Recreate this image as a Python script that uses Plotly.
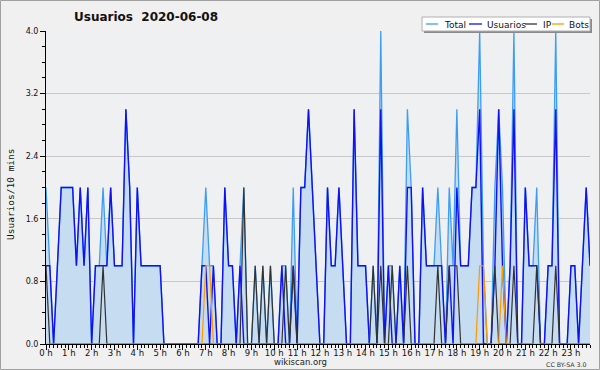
import plotly.graph_objects as go

# ---- data (10-minute intervals, 2020-06-08) ----
hour_ticks = list(range(24))
hour_labels = ["0 h", "1 h", "2 h", "3 h", "4 h", "5 h", "6 h", "7 h", "8 h", "9 h", "10 h", "11 h",
               "12 h", "13 h", "14 h", "15 h", "16 h", "17 h", "18 h", "19 h", "20 h", "21 h", "22 h", "23 h"]

total = [2, 1, 0, 1, 2, 2, 2, 2, 1, 2, 1, 2,
         0, 1, 1, 2, 1, 2, 1, 1, 1, 3, 2, 0,
         2, 1, 1, 1, 1, 1, 1, 0, 0, 0, 0, 0,
         0, 0, 0, 0, 0, 1, 2, 1, 1, 0, 0, 2,
         1, 1, 0, 1, 2, 0, 0, 1, 0, 1, 0, 1,
         0, 0, 1, 1, 0, 2, 0, 2, 2, 3, 2, 1,
         0, 0, 2, 1, 1, 2, 1, 0, 0, 3, 1, 1,
         1, 0, 1, 0, 4, 0, 1, 1, 0, 1, 0, 3,
         2, 0, 0, 2, 1, 1, 1, 2, 1, 0, 2, 1,
         3, 1, 1, 1, 2, 2, 4, 1, 0, 0, 2, 3,
         2, 0, 1, 4, 0, 0, 2, 1, 1, 2, 0, 0,
         1, 1, 4, 0, 0, 0, 1, 1, 0, 1, 2, 1]

usuarios = [1, 1, 0, 1, 2, 2, 2, 2, 1, 2, 1, 2,
            0, 1, 1, 1, 1, 2, 1, 1, 1, 3, 2, 0,
            2, 1, 1, 1, 1, 1, 1, 0, 0, 0, 0, 0,
            0, 0, 0, 0, 0, 1, 1, 0, 1, 0, 0, 2,
            1, 1, 0, 1, 0, 0, 0, 0, 0, 0, 0, 0,
            0, 0, 1, 0, 0, 1, 0, 2, 2, 3, 2, 1,
            0, 0, 2, 1, 1, 2, 1, 0, 0, 3, 1, 1,
            1, 0, 0, 0, 3, 0, 1, 0, 0, 1, 0, 2,
            2, 0, 0, 2, 1, 1, 1, 1, 1, 0, 1, 0,
            2, 1, 1, 1, 2, 2, 3, 0, 0, 0, 1, 3,
            1, 0, 1, 3, 0, 0, 2, 1, 1, 1, 0, 0,
            1, 1, 3, 0, 0, 0, 1, 1, 0, 1, 2, 1]

ip = [1, 0, 0, 0, 0, 0, 0, 0, 0, 0, 0, 0,
      0, 0, 0, 1, 0, 0, 0, 0, 0, 0, 0, 0,
      0, 0, 0, 0, 0, 0, 0, 0, 0, 0, 0, 0,
      0, 0, 0, 0, 0, 0, 0, 0, 0, 0, 0, 0,
      0, 0, 0, 0, 2, 0, 0, 1, 0, 1, 0, 1,
      0, 0, 0, 1, 0, 1, 0, 0, 0, 0, 0, 0,
      0, 0, 0, 0, 0, 0, 0, 0, 0, 0, 0, 0,
      0, 0, 1, 0, 1, 0, 0, 1, 0, 0, 0, 1,
      0, 0, 0, 0, 0, 0, 0, 1, 0, 0, 1, 1,
      1, 0, 0, 0, 0, 0, 0, 0, 0, 0, 1, 0,
      0, 0, 0, 1, 0, 0, 0, 0, 0, 1, 0, 0,
      0, 0, 1, 0, 0, 0, 0, 0, 0, 0, 0, 0]

bots = [0, 0, 0, 0, 0, 0, 0, 0, 0, 0, 0, 0,
        0, 0, 0, 0, 0, 0, 0, 0, 0, 0, 0, 0,
        0, 0, 0, 0, 0, 0, 0, 0, 0, 0, 0, 0,
        0, 0, 0, 0, 0, 0, 1, 1, 0, 0, 0, 0,
        0, 0, 0, 0, 0, 0, 0, 0, 0, 0, 0, 0,
        0, 0, 0, 0, 0, 0, 0, 0, 0, 0, 0, 0,
        0, 0, 0, 0, 0, 0, 0, 0, 0, 0, 0, 0,
        0, 0, 0, 0, 0, 0, 0, 0, 0, 0, 0, 0,
        0, 0, 0, 0, 0, 0, 0, 0, 0, 0, 0, 0,
        0, 0, 0, 0, 0, 0, 1, 1, 0, 0, 0, 0,
        1, 0, 0, 0, 0, 0, 0, 0, 0, 0, 0, 0,
        0, 0, 0, 0, 0, 0, 0, 0, 0, 0, 0, 0]

series_names = ["Total", "Usuarios", "IP", "Bots"]
times = [i / 6 for i in range(len(total))]  # hours

# ---- styling ----
W, H = 600, 370
L, R, T, B = 46, 10, 31, 26
PW, PH = W - L - R, H - T - B

C_TOTAL = "#3d9df2"
C_FILL = "#c5dcf1"
C_USU = "#1010f5"
C_IP = "#333333"
C_BOTS = "#ff9900"
FONT = "DejaVu Sans"


def px(x):
    return (x - L) / PW


def py(y):
    return (H - B - y) / PH


fig = go.Figure()
fig.add_trace(go.Scatter(x=times, y=total, mode="lines", fill="tozeroy",
                         fillcolor=C_FILL, line=dict(color=C_TOTAL, width=1.3),
                         name=series_names[0]))
fig.add_trace(go.Scatter(x=times, y=usuarios, mode="lines",
                         line=dict(color=C_USU, width=1.4), name=series_names[1]))
fig.add_trace(go.Scatter(x=times, y=ip, mode="lines",
                         line=dict(color=C_IP, width=1.2), name=series_names[2]))
fig.add_trace(go.Scatter(x=times, y=bots, mode="lines",
                         line=dict(color=C_BOTS, width=1.2), name=series_names[3]))

shapes = []
annotations = []

# outer border
shapes.append(dict(type="rect", xref="paper", yref="paper",
                   x0=px(0.5), x1=px(599.5), y0=py(369.5), y1=py(0.5),
                   line=dict(color="#a0a0a0", width=1), fillcolor="rgba(0,0,0,0)", layer="above"))

# legend box (shadow + box)
shapes.append(dict(type="rect", xref="paper", yref="paper",
                   x0=px(424), x1=px(592), y0=py(33), y1=py(19),
                   line=dict(width=0), fillcolor="#8a8a8a", layer="above"))
shapes.append(dict(type="rect", xref="paper", yref="paper",
                   x0=px(422), x1=px(590), y0=py(31), y1=py(17),
                   line=dict(color="#b0b0b0", width=1), fillcolor="white", layer="above"))

legend_items = [(426, 438, 442, C_TOTAL), (469, 482, 485, C_USU),
                (525, 537, 541, C_IP), (552, 564, 567, C_BOTS)]
for name, (lx0, lx1, tx, col) in zip(series_names, legend_items):
    shapes.append(dict(type="line", xref="paper", yref="paper",
                       x0=px(lx0), x1=px(lx1), y0=py(24), y1=py(24),
                       line=dict(color=col, width=1.3), layer="above"))
    annotations.append(dict(text=name, xref="paper", yref="paper", x=px(tx), y=py(24.5),
                            xanchor="left", yanchor="middle", showarrow=False,
                            font=dict(family=FONT, size=9, color="#111")))

# title
annotations.append(dict(text="<b>Usuarios  2020-06-08</b>", xref="paper", yref="paper",
                        x=px(146), y=py(17), xanchor="center", yanchor="middle",
                        showarrow=False, font=dict(family=FONT, size=12, color="#111")))
# y axis title
annotations.append(dict(text="Usuarios/10 mins", xref="paper", yref="paper",
                        x=px(10), y=py(194), xanchor="center", yanchor="middle",
                        textangle=-90, showarrow=False,
                        font=dict(family="DejaVu Sans Mono", size=9.5, color="#111")))
# footer
annotations.append(dict(text="wikiscan.org", xref="paper", yref="paper",
                        x=px(300), y=py(362), xanchor="center", yanchor="middle",
                        showarrow=False, font=dict(family=FONT, size=8.5, color="#222")))
annotations.append(dict(text="CC BY-SA 3.0", xref="paper", yref="paper",
                        x=px(589), y=py(364.5), xanchor="right", yanchor="middle",
                        showarrow=False, font=dict(family=FONT, size=6.3, color="#333")))

fig.update_layout(
    width=W, height=H,
    margin=dict(l=L, r=R, t=T, b=B, pad=0),
    paper_bgcolor="#f0f0f0",
    plot_bgcolor="#eff0f2",
    showlegend=False,
    shapes=shapes,
    annotations=annotations,
    font=dict(family=FONT, size=8, color="#111"),
)

fig.update_xaxes(
    range=[0, times[-1]],
    tickmode="array", tickvals=hour_ticks, ticktext=hour_labels,
    ticks="outside", ticklen=5, tickcolor="black", tickwidth=1,
    ticklabelstandoff=-4,
    minor=dict(tickmode="linear", tick0=0, dtick=1 / 6, ticks="outside",
               ticklen=3, tickcolor="black", tickwidth=1, showgrid=False),
    showline=True, linecolor="black", linewidth=1,
    showgrid=False, zeroline=False,
    tickfont=dict(family=FONT, size=8.5, color="#111"),
)
fig.update_yaxes(
    range=[0, 4],
    tickmode="linear", tick0=0, dtick=0.8, tickformat=".1f",
    ticks="outside", ticklen=5, tickcolor="black", tickwidth=1,
    minor=dict(tickmode="linear", tick0=0, dtick=0.2, ticks="outside",
               ticklen=3, tickcolor="black", tickwidth=1, showgrid=False),
    showline=True, linecolor="black", linewidth=1,
    showgrid=True, gridcolor="#c8c8c8", gridwidth=1, zeroline=False,
    tickfont=dict(family=FONT, size=8, color="#111"),
)

fig.write_html("out.html", config={"displayModeBar": False},
               post_script="document.body.style.margin='0px';document.body.style.overflow='hidden';")
